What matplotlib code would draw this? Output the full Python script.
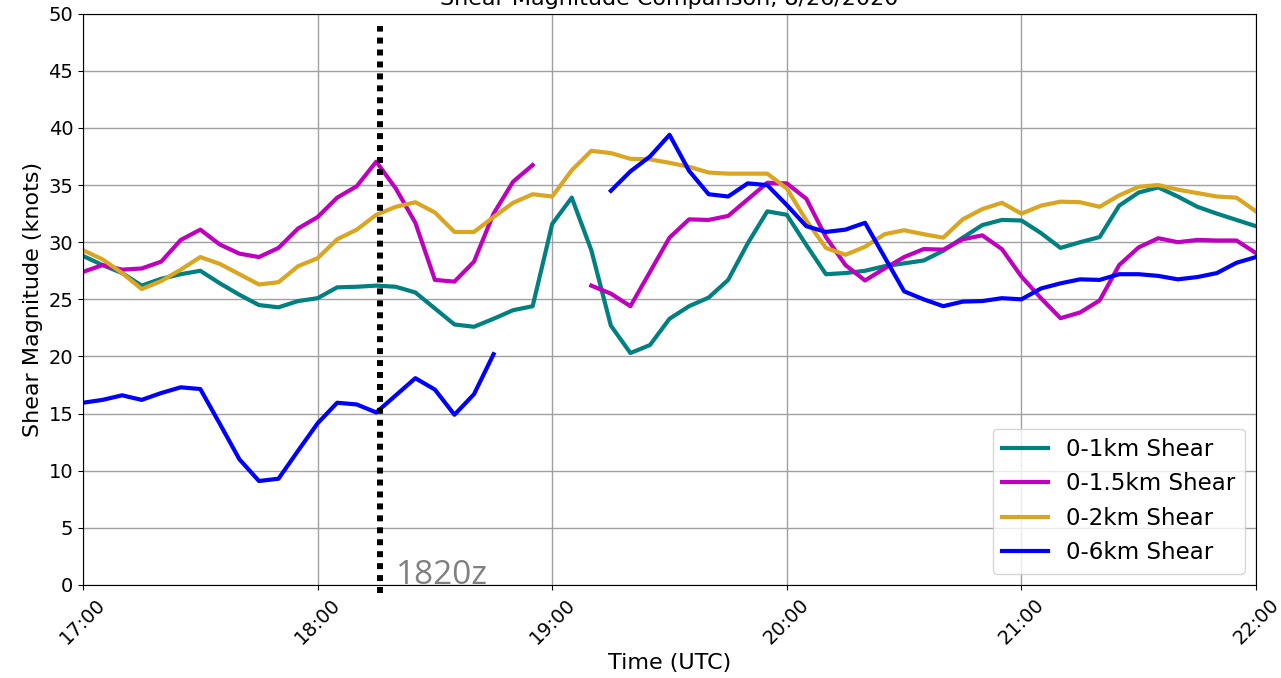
import matplotlib
matplotlib.use("Agg")
import matplotlib.pyplot as plt
import matplotlib.dates as mdates
import numpy as np
import pandas as pd

nan = np.nan

# 5-minute steps from 17:00 to 22:00 UTC
times = pd.date_range("2020-08-26 17:00", "2020-08-26 22:00", freq="5min")

shear_0_1km = [
    28.8, 28.0, 27.3, 26.2, 26.8, 27.2, 27.5, 26.4, 25.4, 24.5,
    24.3, 24.85, 25.1, 26.05, 26.1, 26.2, 26.1, 25.6, 24.2, 22.8,
    22.6, 23.3, 24.05, 24.4, 31.6, 33.9, 29.3, 22.7, 20.3, 21.0,
    23.3, 24.4, 25.15, 26.7, 29.9, 32.7, 32.4, 29.75, 27.2, 27.3,
    27.5, 27.9, 28.15, 28.4, 29.25, 30.4, 31.5, 31.95, 31.9, 30.8,
    29.5, 30.0, 30.45, 33.2, 34.35, 34.8, 34.0, 33.1, 32.5, 31.95,
    31.4,
]

shear_0_1p5km = [
    27.4, 28.0, 27.6, 27.7, 28.3, 30.2, 31.1, 29.8, 29.0, 28.7,
    29.5, 31.2, 32.2, 33.9, 34.9, 37.05, 34.7, 31.7, 26.7, 26.55,
    28.3, 32.5, 35.3, 36.75, nan, nan, 26.2, 25.5, 24.4, 27.4,
    30.4, 32.0, 31.95, 32.3, 33.75, 35.2, 35.15, 33.8, 30.45, 28.0,
    26.65, 27.7, 28.7, 29.4, 29.35, 30.25, 30.6, 29.4, 27.0, 25.1,
    23.35, 23.85, 24.9, 28.0, 29.55, 30.35, 30.0, 30.2, 30.15, 30.15,
    29.05,
]

shear_0_2km = [
    29.3, 28.5, 27.3, 25.9, 26.6, 27.6, 28.7, 28.1, 27.2, 26.3,
    26.5, 27.9, 28.6, 30.25, 31.1, 32.4, 33.1, 33.5, 32.6, 30.9,
    30.9, 32.2, 33.45, 34.2, 34.0, 36.3, 38.0, 37.8, 37.3, 37.25,
    36.95, 36.6, 36.1, 36.0, 36.0, 36.0, 34.7, 31.9, 29.5, 28.9,
    29.6, 30.7, 31.05, 30.7, 30.4, 32.0, 32.9, 33.45, 32.5, 33.2,
    33.55, 33.5, 33.1, 34.1, 34.85, 35.0, 34.6, 34.3, 34.0, 33.9,
    32.7,
]

shear_0_6km = [
    15.95, 16.2, 16.6, 16.2, 16.8, 17.3, 17.15, 14.1, 11.0, 9.1,
    9.3, 11.75, 14.15, 15.95, 15.8, 15.1, 16.6, 18.1, 17.1, 14.9,
    16.7, 20.2, nan, nan, nan, nan, nan, 34.5, 36.2, 37.5,
    39.4, 36.25, 34.2, 34.0, 35.15, 35.0, 33.25, 31.4, 30.9, 31.1,
    31.7, 28.7, 25.7, 25.0, 24.4, 24.8, 24.85, 25.1, 25.0, 25.95,
    26.4, 26.75, 26.7, 27.2, 27.2, 27.05, 26.75, 26.95, 27.3, 28.2,
    28.7,
]

marker_time = pd.Timestamp("2020-08-26 18:16")
marker_text_time = pd.Timestamp("2020-08-26 18:20")

fig = plt.figure(figsize=(12.81, 6.78), dpi=100)
ax = fig.add_axes([0.0648, 0.1372, 0.9157, 0.8426])

ax.plot(times, shear_0_1km, color="teal", lw=3, label="0-1km Shear")
ax.plot(times, shear_0_1p5km, color="m", lw=3, label="0-1.5km Shear")
ax.plot(times, shear_0_2km, color="goldenrod", lw=3, label="0-2km Shear")
ax.plot(times, shear_0_6km, color="b", lw=3, label="0-6km Shear")

ax.plot([marker_time, marker_time], [-0.7, 48.9], color="black",
        lw=4.3, linestyle=(0, (1, 1)), clip_on=False)
ax.text(marker_text_time, 0.05, "1820z", color="gray", fontsize=24,
        family="Open Sans", ha="left", va="baseline")

ax.set_xlim(times[0], times[-1])
ax.set_ylim(0, 50)
ax.set_yticks(np.arange(0, 51, 5))
ax.xaxis.set_major_locator(mdates.HourLocator())
ax.xaxis.set_major_formatter(mdates.DateFormatter("%H:%M"))
ax.tick_params(axis="x", labelrotation=45, labelsize=14)
ax.tick_params(axis="y", labelsize=14)

ax.grid(True, color="#a0a0a0", lw=1)
ax.set_xlabel("Time (UTC)", fontsize=16)
ax.set_ylabel("Shear Magnitude (knots)", fontsize=16)
ax.set_title("Shear Magnitude Comparison, 8/26/2020", fontsize=16)
ax.legend(loc="lower right", fontsize=16.5)

plt.savefig("out.png", dpi=100)
